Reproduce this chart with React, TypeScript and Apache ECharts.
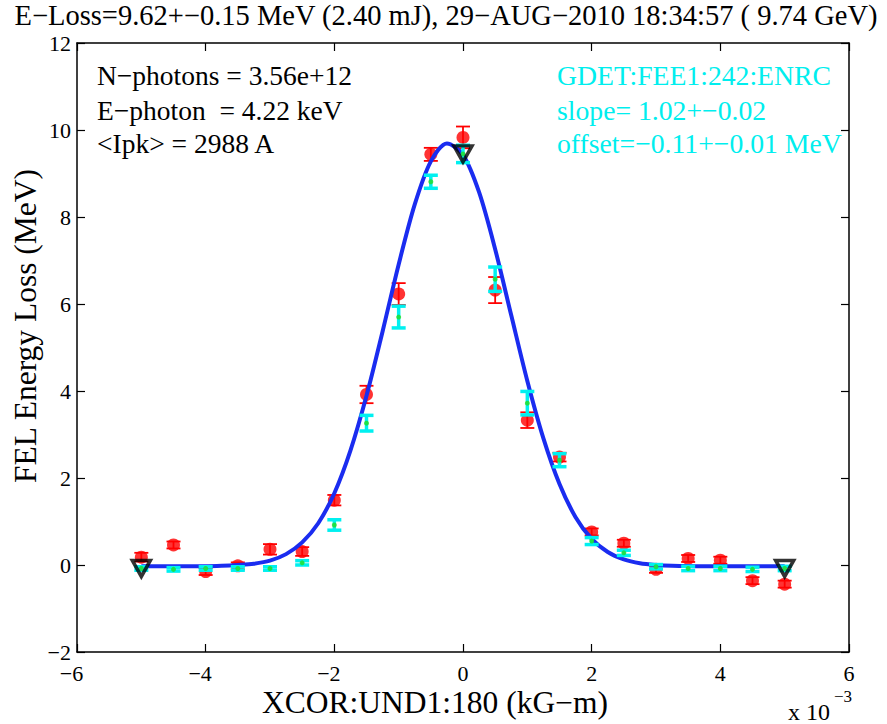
import React, { useEffect, useRef } from "react";
import * as echarts from "echarts";

// x positions of the corrector scan, in units of 1e-3 kG-m
const xcorMilli = [-5, -4.5, -4, -3.5, -3, -2.5, -2, -1.5, -1, -0.5, 0, 0.5, 1, 1.5, 2, 2.5, 3, 3.5, 4, 4.5, 5];
// red: FEL energy loss measured (MeV) and its error
const redLoss = [0.18, 0.46, -0.15, -0.02, 0.36, 0.31, 1.49, 3.92, 6.23, 9.44, 9.83, 6.32, 3.33, 2.48, 0.76, 0.5, -0.1, 0.15, 0.11, -0.36, -0.44];
const redErr = [0.1, 0.08, 0.08, 0.08, 0.12, 0.1, 0.12, 0.2, 0.25, 0.15, 0.25, 0.3, 0.18, 0.1, 0.08, 0.08, 0.08, 0.08, 0.08, 0.08, 0.08];
// cyan: gas detector (GDET) scaled energy and its error
const cyanLoss = [-0.08, -0.1, -0.08, -0.08, -0.08, 0.05, 0.92, 3.26, 5.7, 8.81, 9.45, 6.57, 3.72, 2.41, 0.55, 0.28, -0.04, -0.08, -0.08, -0.1, -0.08];
const cyanErr = [0.04, 0.04, 0.04, 0.04, 0.04, 0.05, 0.12, 0.18, 0.25, 0.15, 0.2, 0.28, 0.27, 0.15, 0.08, 0.06, 0.05, 0.05, 0.05, 0.05, 0.05];
// fitted curve
const fitX = [-5, -4.75, -4.5, -4.25, -4, -3.75, -3.5, -3.25, -3, -2.75, -2.5, -2.25, -2, -1.75, -1.5, -1.25, -1, -0.75, -0.5, -0.25, 0, 0.25, 0.5, 0.75, 1, 1.25, 1.5, 1.75, 2, 2.25, 2.5, 2.75, 3, 3.25, 3.5, 3.75, 4, 4.25, 4.5, 4.75, 5];
const fitY = [-0.03, -0.03, -0.03, -0.03, -0.03, -0.02, 0.0, 0.03, 0.1, 0.25, 0.52, 0.96, 1.65, 2.63, 3.89, 5.37, 6.91, 8.29, 9.28, 9.69, 9.43, 8.57, 7.26, 5.74, 4.23, 2.91, 1.86, 1.1, 0.6, 0.3, 0.13, 0.04, 0.0, -0.02, -0.025, -0.03, -0.03, -0.03, -0.03, -0.03, -0.03];
// triangle markers
const triX = [-5, 0, 5];
const triY = [-0.08, 9.45, -0.08];

const xTicks = { min: -6, max: 6, interval: 2 };
const yTicks = { min: -2, max: 12, interval: 2 };

const titleText = "E\u2212Loss=9.62+\u22120.15 MeV (2.40 mJ), 29\u2212AUG\u22122010 18:34:57 ( 9.74 GeV)";
const leftNotes = ["N\u2212photons = 3.56e+12", "E\u2212photon  = 4.22 keV", "<Ipk> = 2988 A"];
const rightNotes = ["GDET:FEE1:242:ENRC", "slope= 1.02+\u22120.02", "offset=\u22120.11+\u22120.01 MeV"];
const xLabel = "XCOR:UND1:180 (kG\u2212m)";
const yLabel = "FEL Energy Loss (MeV)";

const FONT = "'Liberation Serif', 'Times New Roman', serif";

function errorBarSeries(xs: number[], ys: number[], es: number[], color: string, width: number, z: number) {
  return {
    type: "custom",
    z,
    data: xs.map((x, i) => [x, ys[i], es[i]]),
    encode: { x: 0, y: 1 },
    renderItem: (params: any, api: any) => {
      const x = api.value(0);
      const y = api.value(1);
      const e = api.value(2);
      const top = api.coord([x, y + e]);
      const bot = api.coord([x, y - e]);
      const hw = 7;
      const style = { stroke: color, lineWidth: width };
      return {
        type: "group",
        children: [
          { type: "line", shape: { x1: top[0], y1: top[1], x2: bot[0], y2: bot[1] }, style },
          { type: "line", shape: { x1: top[0] - hw, y1: top[1], x2: top[0] + hw, y2: top[1] }, style },
          { type: "line", shape: { x1: bot[0] - hw, y1: bot[1], x2: bot[0] + hw, y2: bot[1] }, style },
        ],
      };
    },
  };
}

export default function App() {
  const ref = useRef<HTMLDivElement>(null);
  useEffect(() => {
    if (!ref.current) return;
    const chart = echarts.init(ref.current, undefined, { renderer: "svg" });
    const axisLine = { show: true, onZero: false, lineStyle: { color: "#000", width: 1.5 } };
    const axisTick = { show: true, inside: true, length: 8, lineStyle: { color: "#000", width: 1.2 } };
    const minus = (v: number) => (v < 0 ? "\u2212" + -v : String(v));
    const graphic: any[] = [
      {
        type: "text", x: 446, y: 15,
        style: { text: titleText, fontFamily: FONT, fontSize: 28.5, fill: "#000", align: "center", verticalAlign: "middle" },
      },
      {
        type: "text", x: 435, y: 702,
        style: { text: xLabel, fontFamily: FONT, fontSize: 31.5, fill: "#000", align: "center", verticalAlign: "middle" },
      },
      {
        type: "text", x: 25, y: 326, rotation: Math.PI / 2,
        style: { text: yLabel, fontFamily: FONT, fontSize: 31.5, fill: "#000", align: "center", verticalAlign: "middle" },
      },
      {
        type: "text", x: 830, y: 712,
        style: { text: "x 10", fontFamily: FONT, fontSize: 24, fill: "#000", align: "right", verticalAlign: "middle" },
      },
      {
        type: "text", x: 834, y: 696,
        style: { text: "\u22123", fontFamily: FONT, fontSize: 17, fill: "#000", align: "left", verticalAlign: "middle" },
      },
    ];
    const rowsY = [75, 110, 143];
    leftNotes.forEach((t, i) =>
      graphic.push({
        type: "text", x: 97, y: rowsY[i],
        style: { text: t, fontFamily: FONT, fontSize: 27.5, fill: "#000", align: "left", verticalAlign: "middle" },
      })
    );
    rightNotes.forEach((t, i) =>
      graphic.push({
        type: "text", x: 557, y: rowsY[i],
        style: { text: t, fontFamily: FONT, fontSize: 27.7, fill: "#00eeee", align: "left", verticalAlign: "middle" },
      })
    );

    chart.setOption({
      animation: false,
      backgroundColor: "#fff",
      grid: { left: 77, right: 38, top: 43, bottom: 72, containLabel: false },
      xAxis: [
        {
          type: "value", ...xTicks, position: "bottom",
          axisLine, axisTick, splitLine: { show: false },
          axisLabel: {
            color: "#000", fontFamily: FONT, fontSize: 22, margin: 12, lineHeight: 18,
            formatter: (v: number) => (v < 0 ? "\u2212" + -v + "\u2002" : String(v)),
          },
        },
        {
          type: "value", ...xTicks, position: "top",
          axisLine, axisTick, splitLine: { show: false }, axisLabel: { show: false },
        },
      ],
      yAxis: [
        {
          type: "value", ...yTicks, position: "left",
          axisLine, axisTick, splitLine: { show: false },
          axisLabel: { color: "#000", fontFamily: FONT, fontSize: 22, margin: 6, lineHeight: 18, formatter: minus },
        },
        {
          type: "value", ...yTicks, position: "right",
          axisLine, axisTick, splitLine: { show: false }, axisLabel: { show: false },
        },
      ],
      series: [
        errorBarSeries(xcorMilli, redLoss, redErr, "#ff0000", 1.8, 1),
        {
          type: "scatter", z: 2,
          data: xcorMilli.map((x, i) => [x, redLoss[i]]),
          symbol: "circle", symbolSize: 13,
          itemStyle: { color: "#ff0000" },
        },
        {
          type: "line", z: 3,
          data: fitX.map((x, i) => [x, fitY[i]]),
          smooth: 0.3, showSymbol: false, symbol: "none",
          lineStyle: { color: "#1a2cf0", width: 4 },
        },
        errorBarSeries(xcorMilli, cyanLoss, cyanErr, "#00f0f0", 3.5, 4),
        {
          type: "scatter", z: 5,
          data: xcorMilli.map((x, i) => [x, cyanLoss[i]]),
          symbol: "circle", symbolSize: 5,
          itemStyle: { color: "#22dd22" },
        },
        {
          type: "scatter", z: 6,
          data: triX.map((x, i) => [x, triY[i]]),
          symbol: "triangle", symbolRotate: 180, symbolSize: [18, 16],
          itemStyle: { color: "rgba(0,0,0,0)", borderColor: "#000", borderWidth: 3.5 },
        },
      ],
      graphic,
    });
    return () => chart.dispose();
  }, []);
  return (
    <div
      ref={ref}
      style={{ position: "fixed", left: 0, top: 0, width: 887, height: 724, background: "#fff" }}
    />
  );
}
